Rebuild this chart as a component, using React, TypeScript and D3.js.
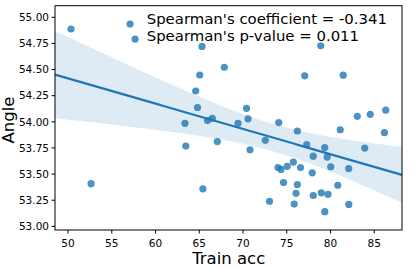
import React from "react";
import * as d3 from "d3";

const trainAcc = [
  50.34, 57.09, 57.66, 65.31, 78.88, 67.86, 65.05, 77.05, 81.45, 64.59,
  64.80, 70.40, 83.06, 84.54, 86.31, 70.57, 66.49, 65.94, 63.37, 69.43,
  74.08, 63.46, 67.06, 70.80, 72.55, 65.41, 73.03, 74.00, 74.34, 75.05,
  74.63, 76.21, 81.11, 86.16, 77.28, 79.34, 78.02, 79.62, 83.91, 75.75,
  76.57, 80.02, 82.08, 77.91, 76.21, 76.06, 78.03, 78.95, 79.71, 80.83,
  75.85, 82.09, 79.35, 52.63,
];
const angle = [
  54.888, 54.936, 54.792, 54.721, 54.728, 54.522, 54.448, 54.440, 54.446, 54.295,
  54.137, 54.129, 54.053, 54.072, 54.111, 54.029, 54.034, 54.012, 53.986, 53.986,
  53.993, 53.768, 53.811, 53.733, 53.823, 53.359, 53.240, 53.563, 53.545, 53.574,
  53.419, 53.912, 53.924, 53.896, 53.781, 53.754, 53.671, 53.663, 53.749, 53.615,
  53.563, 53.570, 53.553, 53.512, 53.400, 53.316, 53.295, 53.321, 53.306, 53.393,
  53.213, 53.210, 53.140, 53.408,
];
const xTicks = [50, 55, 60, 65, 70, 75, 80, 85];
const yTicks = [53.0, 53.25, 53.5, 53.75, 54.0, 54.25, 54.5, 54.75, 55.0];
const legendLines = ["Spearman's coefficient = -0.341", "Spearman's p-value = 0.011"];

const W = 415, H = 268;
const L = 55, R = 402, T = 5.7, B = 230;
const FONT = "DejaVu Sans, sans-serif";
const BLUE = "#1f77b4";

export default function App() {
  const x = d3.scaleLinear().domain([48.51, 88.17]).range([L, R]);
  const y = d3.scaleLinear().domain([52.965, 55.111]).range([B, T]);

  const n = trainAcc.length;
  const xm = d3.mean(trainAcc)!;
  const ym = d3.mean(angle)!;
  let sxx = 0, sxy = 0;
  for (let i = 0; i < n; i++) {
    sxx += (trainAcc[i] - xm) ** 2;
    sxy += (trainAcc[i] - xm) * (angle[i] - ym);
  }
  const slope = sxy / sxx;
  const icpt = ym - slope * xm;
  let sse = 0;
  for (let i = 0; i < n; i++) sse += (angle[i] - (icpt + slope * trainAcc[i])) ** 2;
  const s = Math.sqrt(sse / (n - 2));
  const tval = 2.007;
  const grid = d3.range(0, 101).map((k) => 48.51 + (88.17 - 48.51) * (k / 100));
  const band = grid.map((gx) => {
    const yh = icpt + slope * gx;
    const se = s * Math.sqrt(1 / n + (gx - xm) ** 2 / sxx) * tval * 1.12;
    return { gx, lo: yh - se, hi: yh + se, yh };
  });
  const area = d3
    .area<{ gx: number; lo: number; hi: number }>()
    .x((d) => x(d.gx))
    .y0((d) => y(d.lo))
    .y1((d) => y(d.hi));
  const line = d3
    .line<{ gx: number; yh: number }>()
    .x((d) => x(d.gx))
    .y((d) => y(d.yh));

  return (
    <svg width={W} height={H} style={{ position: "absolute", left: 0, top: 0, background: "#fff" }} fontFamily={FONT}>
      <defs>
        <clipPath id="plot">
          <rect x={L} y={T} width={R - L} height={B - T} />
        </clipPath>
      </defs>
      <g clipPath="url(#plot)">
        <path d={area(band)!} fill={BLUE} fillOpacity={0.15} />
        {trainAcc.map((v, i) => (
          <circle key={i} cx={x(v)} cy={y(angle[i])} r={3.6} fill={BLUE} fillOpacity={0.8} />
        ))}
        <path d={line(band)!} fill="none" stroke={BLUE} strokeWidth={2.2} />
      </g>
      <rect x={L} y={T} width={R - L} height={B - T} fill="none" stroke="#000" strokeWidth={1} />
      {xTicks.map((t) => (
        <g key={t}>
          <line x1={x(t)} x2={x(t)} y1={B} y2={B + 3.5} stroke="#000" strokeWidth={1} />
          <text x={x(t)} y={246.5} fontSize={10.5} textAnchor="middle" fill="#000">
            {t}
          </text>
        </g>
      ))}
      {yTicks.map((t) => (
        <g key={t}>
          <line x1={L - 3.5} x2={L} y1={y(t)} y2={y(t)} stroke="#000" strokeWidth={1} />
          <text x={49} y={y(t) + 3.8} fontSize={10.5} textAnchor="end" fill="#000">
            {t.toFixed(2)}
          </text>
        </g>
      ))}
      <text x={228.7} y={264.3} fontSize={16.5} textAnchor="middle" fill="#000">
        Train acc
      </text>
      <text transform="translate(13.8,120) rotate(-90)" fontSize={16.5} textAnchor="middle" fill="#000">
        Angle
      </text>
      {legendLines.map((t, i) => (
        <text key={i} x={146.7} y={24.3 + i * 16.2} fontSize={14.9} fill="#000">
          {t}
        </text>
      ))}
    </svg>
  );
}
